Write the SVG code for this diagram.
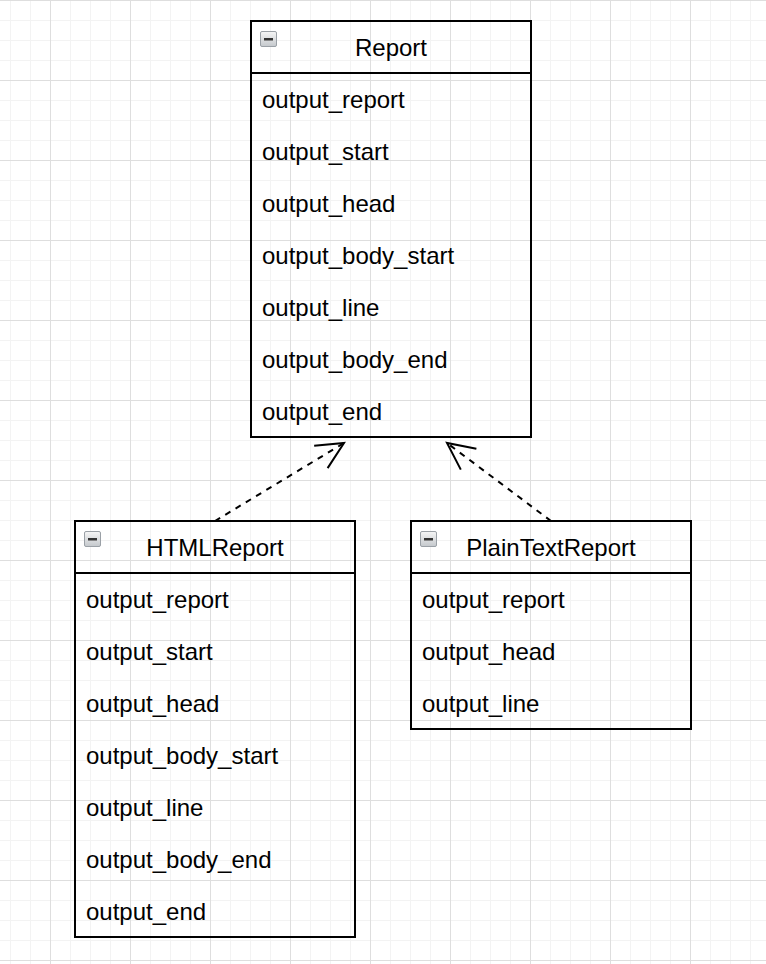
<svg xmlns="http://www.w3.org/2000/svg" width="766" height="964" viewBox="0 0 766 964">
  <defs>
    <pattern id="gridMinor" patternUnits="userSpaceOnUse" x="0" y="0" width="20" height="20">
      <rect x="10" y="0" width="1" height="20" fill="#f3f3f3"/>
      <rect x="0" y="0" width="20" height="1" fill="#f3f3f3"/>
    </pattern>
    <pattern id="gridMajor" patternUnits="userSpaceOnUse" x="0" y="0" width="80" height="80">
      <rect x="50" y="0" width="1" height="80" fill="#dedede"/>
      <rect x="0" y="0" width="80" height="1" fill="#dedede"/>
    </pattern>
    <linearGradient id="iconGrad" x1="0" y1="0" x2="0" y2="1">
      <stop offset="0" stop-color="#f6f6f6"/>
      <stop offset="1" stop-color="#c4c8cc"/>
    </linearGradient>
    <marker id="openArrow" markerUnits="userSpaceOnUse" orient="auto" refX="0" refY="0" markerWidth="40" markerHeight="40" viewBox="-34 -20 40 40" overflow="visible">
      <path d="M -27 -13 L 0 0 L -27 13" fill="none" stroke="#000" stroke-width="2" stroke-dasharray="none" stroke-linejoin="miter"/>
    </marker>
    <g id="icon">
      <rect x="0.5" y="0.5" width="16" height="15" rx="1.5" fill="url(#iconGrad)" stroke="#9aa0a6" stroke-width="1"/>
      <rect x="4" y="7" width="9" height="2.5" fill="#333"/>
    </g>
  </defs>
  <style>
    .box { fill: none; stroke: #000; stroke-width: 2; }
    .sep { stroke: #000; stroke-width: 2; }
    .title { font-family: "Liberation Sans", Arial, Helvetica, sans-serif; font-size: 24px; fill: #000; text-anchor: middle; }
    .item { font-family: "Liberation Sans", Arial, Helvetica, sans-serif; font-size: 24px; fill: #000; }
    .edge { fill: none; stroke: #000; stroke-width: 2; stroke-dasharray: 6 6; marker-end: url(#openArrow); }
  </style>

  <rect x="0" y="0" width="766" height="964" fill="#ffffff"/>
  <rect x="0" y="0" width="766" height="964" fill="url(#gridMinor)"/>
  <rect x="0" y="0" width="766" height="964" fill="url(#gridMajor)"/>

  <g id="connectors">
    <path class="edge" d="M 215 521 L 344 443"/>
    <path class="edge" d="M 551 521 L 447 443"/>
  </g>

  <g id="Report">
    <rect class="box" x="251" y="21" width="280" height="416"/>
    <line class="sep" x1="251" y1="73" x2="531" y2="73"/>
    <use href="#icon" x="260" y="31"/>
    <text class="title" x="391" y="56">Report</text>
    <text class="item" x="262" y="108">output_report</text>
    <text class="item" x="262" y="160">output_start</text>
    <text class="item" x="262" y="212">output_head</text>
    <text class="item" x="262" y="264">output_body_start</text>
    <text class="item" x="262" y="316">output_line</text>
    <text class="item" x="262" y="368">output_body_end</text>
    <text class="item" x="262" y="420">output_end</text>
  </g>

  <g id="HTMLReport">
    <rect class="box" x="75" y="521" width="280" height="416"/>
    <line class="sep" x1="75" y1="573" x2="355" y2="573"/>
    <use href="#icon" x="84" y="531"/>
    <text class="title" x="215" y="556">HTMLReport</text>
    <text class="item" x="86" y="608">output_report</text>
    <text class="item" x="86" y="660">output_start</text>
    <text class="item" x="86" y="712">output_head</text>
    <text class="item" x="86" y="764">output_body_start</text>
    <text class="item" x="86" y="816">output_line</text>
    <text class="item" x="86" y="868">output_body_end</text>
    <text class="item" x="86" y="920">output_end</text>
  </g>

  <g id="PlainTextReport">
    <rect class="box" x="411" y="521" width="280" height="208"/>
    <line class="sep" x1="411" y1="573" x2="691" y2="573"/>
    <use href="#icon" x="420" y="531"/>
    <text class="title" x="551" y="556">PlainTextReport</text>
    <text class="item" x="422" y="608">output_report</text>
    <text class="item" x="422" y="660">output_head</text>
    <text class="item" x="422" y="712">output_line</text>
  </g>
</svg>
